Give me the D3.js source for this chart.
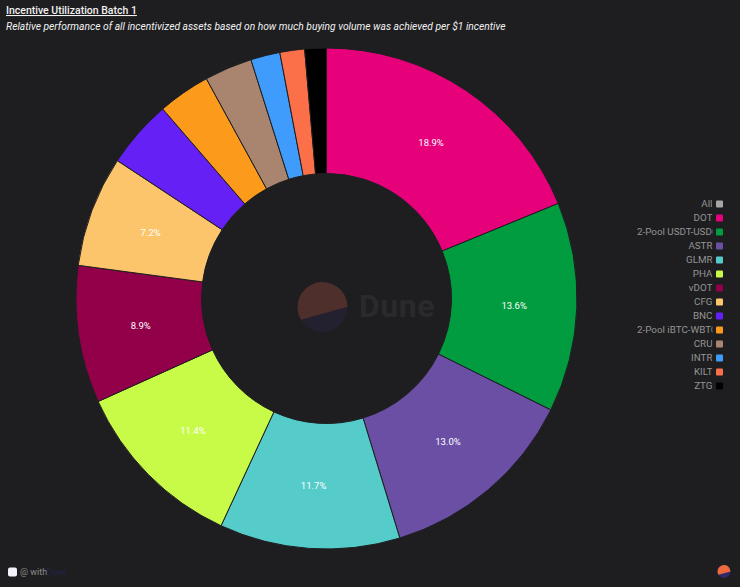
<!DOCTYPE html>
<html>
<head>
<meta charset="utf-8">
<script src="https://cdnjs.cloudflare.com/ajax/libs/d3/7.8.5/d3.min.js"></script>
<style>
  html, body { margin: 0; padding: 0; background: #1e1e20; }
  svg { display: block; font-family: Roboto, sans-serif; }
</style>
</head>
<body>
<script>
  const assets = ['DOT', '2-Pool USDT-USDC', 'ASTR', 'GLMR', 'PHA', 'vDOT', 'CFG', 'BNC', '2-Pool iBTC-WBTC', 'CRU', 'INTR', 'KILT', 'ZTG'];
  const shares = [18.9, 13.6, 13.0, 11.7, 11.4, 8.9, 7.2, 4.4, 3.4, 3.1, 1.9, 1.6, 1.4];
  const colors = ['#e6007a', '#009c3f', '#6a4fa5', '#55cbca', '#c8fb48', '#92004a', '#fdc56b', '#6420f5', '#fb9a1b', '#a98570', '#3f9bfc', '#fb7049', '#000000'];
  const legendNames = ['All', ...assets];
  const legendColors = ['#a6a6a6', ...colors];

  const width = 740;
  const height = 587;
  const cx = 326.5;
  const cy = 298.5;
  const outerR = 250.5;
  const innerR = 125;

  const svg = d3.select('body')
    .append('svg')
    .attr('width', width)
    .attr('height', height);

  svg.append('text')
    .text('Incentive Utilization Batch 1')
    .attr('x', 6)
    .attr('y', 14)
    .attr('fill', '#f2f2f2')
    .attr('font-size', 10.5)
    .attr('font-weight', 500)
    .attr('text-decoration', 'underline');

  svg.append('text')
    .text('Relative performance of all incentivized assets based on how much buying volume was achieved per $1 incentive')
    .attr('x', 6)
    .attr('y', 30)
    .attr('fill', '#f2f2f2')
    .attr('font-size', 10.27)
    .attr('font-style', 'italic');

  // Dune logo: a disc with its upper part cut off by a tilted chord
  function logoTop(r) {
    const p = d3.path();
    p.arc(0, 0, r, 2.608, -0.013);
    p.closePath();
    return p.toString();
  }

  // watermark sits under the slices, in the hole
  const mark = svg.append('g').attr('transform', 'translate(322.5, 307)');
  mark.append('circle').attr('r', 25).attr('fill', '#23202f');
  mark.append('path')
    .attr('d', logoTop(25))
    .attr('fill', '#4f2f2b');
  svg.append('text')
    .text('Dune')
    .attr('x', 359)
    .attr('y', 317)
    .attr('fill', '#2a2a2c')
    .attr('font-size', 32)
    .attr('font-weight', 700)
    .attr('letter-spacing', 0.5);

  const pie = d3.pie().sort(null).value((d) => d);
  const arc = d3.arc().innerRadius(innerR).outerRadius(outerR);

  const chart = svg.append('g').attr('transform', `translate(${cx}, ${cy})`);

  chart.selectAll('path')
    .data(pie(shares))
    .enter()
    .append('path')
    .attr('d', arc)
    .attr('fill', (d, i) => colors[i])
    .attr('stroke', '#1e1e20')
    .attr('stroke-width', 1);

  chart.selectAll('text')
    .data(pie(shares).filter((d) => d.value >= 7))
    .enter()
    .append('text')
    .text((d) => `${d.value.toFixed(1)}%`)
    .attr('transform', (d) => `translate(${arc.centroid(d)})`)
    .attr('text-anchor', 'middle')
    .attr('dy', '0.35em')
    .attr('fill', '#ffffff')
    .attr('font-size', 9.5);

  const legendY = d3.scalePoint()
    .domain(legendNames)
    .range([204, 386]);

  svg.append('clipPath')
    .attr('id', 'legend-clip')
    .append('rect')
    .attr('x', 620)
    .attr('y', 190)
    .attr('width', 92.5)
    .attr('height', 210);

  const legend = svg.append('g')
    .selectAll('g')
    .data(legendNames)
    .enter()
    .append('g');

  legend.append('text')
    .text((d) => d)
    .attr('x', (d) => (d.length > 10 ? 637 : 712.5))
    .attr('y', (d) => legendY(d))
    .attr('dy', '0.35em')
    .attr('text-anchor', (d) => (d.length > 10 ? 'start' : 'end'))
    .attr('clip-path', 'url(#legend-clip)')
    .attr('fill', '#949494')
    .attr('font-size', 9.8);

  legend.append('rect')
    .attr('x', 716)
    .attr('y', (d) => legendY(d) - 3.5)
    .attr('width', 7)
    .attr('height', 7)
    .attr('rx', 1)
    .attr('fill', (d, i) => legendColors[i]);

  // footer
  svg.append('rect')
    .attr('x', 8).attr('y', 567.5).attr('width', 9).attr('height', 9).attr('rx', 2)
    .attr('fill', '#f2f4fa');
  svg.append('text')
    .text('@ with')
    .attr('x', 20).attr('y', 575)
    .attr('fill', '#8c8c8c')
    .attr('font-size', 9);
  svg.append('text')
    .text('Dune')
    .attr('x', 46).attr('y', 575)
    .attr('fill', '#22224c')
    .attr('font-size', 9);

  const badge = svg.append('g').attr('transform', 'translate(724, 571.5)');
  badge.append('circle').attr('r', 6.5).attr('fill', '#2e2a6b');
  badge.append('path')
    .attr('d', logoTop(6.5))
    .attr('fill', '#f0693c');
</script>
</body>
</html>
